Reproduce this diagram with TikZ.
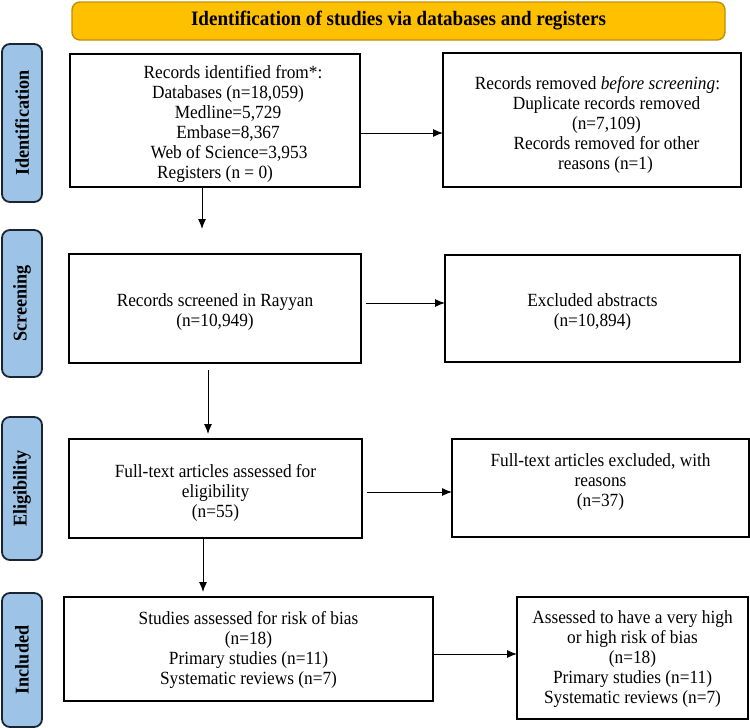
\documentclass[tikz,border=0pt]{standalone}
\usepackage{fontspec}
\setmainfont[FakeStretch=0.93]{Liberation Serif}
\usetikzlibrary{arrows.meta,calc}
\definecolor{gold}{HTML}{FFC000}
\definecolor{goldline}{HTML}{BF9000}
\definecolor{lblue}{HTML}{9DC3E6}
\definecolor{navy}{HTML}{1A2433}
\begin{document}
\begin{tikzpicture}[x=1pt,y=-1pt,
  box/.style={draw, line width=1.7pt, inner sep=0pt, outer sep=0pt},
  txt/.style={align=center, inner sep=0pt, font=\fontsize{18.6}{20}\selectfont},
  side/.style={draw=navy, fill=lblue, line width=1.8pt, rounded corners=8pt,
    inner sep=0pt, outer sep=0pt, font=\fontsize{19.5}{20}\selectfont\bfseries, rotate=90},
  banner/.style={draw=goldline, fill=gold, line width=1.4pt, rounded corners=8pt,
    inner sep=0pt, outer sep=0pt, font=\fontsize{20.5}{22}\selectfont\bfseries},
  arr/.style={line width=1pt, -{Latex[length=10pt,width=8pt]}}]
\useasboundingbox (0,0) rectangle (750,728);

% banner
\node[banner, minimum width=653pt, minimum height=38pt] (title) at (398.5,21)
  {Identification of studies via databases and registers};

% side labels
\node[side, minimum width=158pt, minimum height=40pt] (idl) at (22,123) {Identification};
\node[side, minimum width=147pt, minimum height=40pt] (scl) at (22,303.5) {Screening};
\node[side, minimum width=143pt, minimum height=40pt] (ell) at (22,488.5) {Eligibility};
\node[side, minimum width=134pt, minimum height=40pt] (inl) at (22,660) {Included};

% boxes
\node[box, minimum width=290pt, minimum height=133pt,
  label={[txt, yshift=-3.5pt]center:{\hspace*{36pt}Records identified from*:\\
   \hspace*{26pt}Databases (n=18,059)\\
   \hspace*{26pt}Medline=5,729\\
   \hspace*{26pt}Embase=8,367\\
   \hspace*{28pt}Web of Science=3,953\\
   Registers (n = 0)}}] (A) at (215,120.5) {};
\node[box, minimum width=298pt, minimum height=134pt,
  label={[txt, yshift=-4.5pt]center:{\hspace*{11pt}Records removed \textit{before screening}:\\
   \hspace*{29pt}Duplicate records removed\\
   \hspace*{29pt}(n=7,109)\\
   \hspace*{29pt}Records removed for other\\
   \hspace*{27pt}reasons (n=1)}}] (B) at (592,120) {};
\node[box, minimum width=292pt, minimum height=109pt,
  label={[txt, yshift=-4pt]center:{Records screened in Rayyan\\(n=10,949)}}] (C) at (215,308.5) {};
\node[box, minimum width=295pt, minimum height=107pt,
  label={[txt, yshift=-3.5pt]center:{Excluded abstracts\\(n=10,894)}}] (D) at (592.5,308.5) {};
\node[box, minimum width=293pt, minimum height=99pt,
  label={[txt, yshift=-4pt]center:{Full-text articles assessed for\\eligibility\\(n=55)}}] (E) at (215.5,488.5) {};
\node[box, minimum width=297pt, minimum height=98pt,
  label={[txt, yshift=6pt]center:{Full-text articles excluded, with\\reasons\\(n=37)}}] (F) at (600.5,488) {};
\node[box, minimum width=369pt, minimum height=104pt,
  label={[txt, yshift=-0.5pt]center:{Studies assessed for risk of bias\\(n=18)\\Primary studies (n=11)\\Systematic reviews (n=7)}}] (G) at (248.5,649) {};
\node[box, minimum width=231pt, minimum height=122pt,
  label={[txt, yshift=-1pt]center:{Assessed to have a very high\\or high risk of bias\\(n=18)\\Primary studies (n=11)\\Systematic reviews (n=7)}}] (H) at (632.5,658) {};

% connectors
\coordinate (y1) at (0,133);
\draw[arr] (A.east |- y1) -- (B.west |- y1);
\coordinate (t1) at (202,229);
\draw[arr] (A.south -| t1) -- (t1);

\coordinate (c1) at (366,303);
\draw[arr] (c1) -- (D.west |- c1);
\coordinate (c2) at (208,370);
\coordinate (t2) at (208,434);
\draw[arr] (c2) -- (t2);

\coordinate (e1) at (367,492);
\draw[arr] (e1) -- (F.west |- e1);
\coordinate (t3) at (203,592);
\draw[arr] (E.south -| t3) -- (t3);

\coordinate (g1) at (0,654);
\draw[arr] (G.east |- g1) -- (H.west |- g1);
\end{tikzpicture}
\end{document}
